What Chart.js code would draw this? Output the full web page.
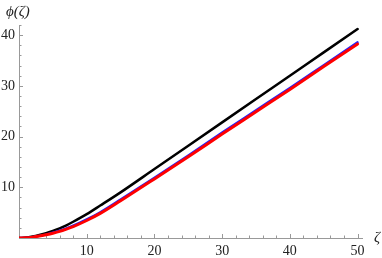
<!DOCTYPE html>
<html>
<head>
<meta charset="utf-8">
<script src="https://cdn.jsdelivr.net/npm/chart.js@4"></script>
<style>
  html, body { margin: 0; padding: 0; background: #fff; }
  #wrap { width: 382px; height: 258px; }
</style>
</head>
<body>
<div id="wrap"><canvas id="phiChart"></canvas></div>
<script>
// values
const zeta = [0, 1, 2, 3, 4, 5, 6, 7, 8, 10, 12, 15, 20, 25, 30, 35, 40, 45, 50];
const phiBlack = [0, 0.08, 0.3, 0.6, 0.95, 1.4, 1.9, 2.5, 3.2, 4.7, 6.4, 9.0, 13.6, 18.2, 22.8, 27.4, 32.0, 36.6, 41.2];
const phiBlue = [0, 0.05, 0.2, 0.42, 0.7, 1.05, 1.45, 1.9, 2.45, 3.7, 5.1, 7.6, 11.9, 16.3, 20.8, 25.2, 29.6, 34.1, 38.6];
const phiRed = [0, 0.04, 0.17, 0.38, 0.65, 0.95, 1.3, 1.75, 2.25, 3.45, 4.85, 7.35, 11.65, 16.0, 20.5, 24.9, 29.3, 33.8, 38.25];
const xTicks = [10, 20, 30, 40, 50];
const yTicks = [10, 20, 30, 40];

function pts(ys) {
    return zeta.map((z, i) => ({ x: z, y: ys[i] }));
}

// Mathematica style axes: inward ticks, minor ticks every 2
const axesPlugin = {
    id: 'axes',
    beforeDatasetsDraw(chart) {
        const ctx = chart.ctx;
        const xs = chart.scales.x, ys = chart.scales.y;
        const x0 = xs.getPixelForValue(0), y0 = ys.getPixelForValue(0);
        ctx.save();
        ctx.strokeStyle = '#999';
        ctx.lineWidth = 1;
        ctx.beginPath();
        ctx.moveTo(x0, y0 + 0.5);
        ctx.lineTo(xs.right, y0 + 0.5);
        ctx.moveTo(x0 + 0.5, y0);
        ctx.lineTo(x0 + 0.5, ys.top);
        for (let v = 2; v <= xs.max; v += 2) {
            const px = Math.round(xs.getPixelForValue(v)) + 0.5;
            const len = v % 10 === 0 ? 4 : 2.5;
            ctx.moveTo(px, y0);
            ctx.lineTo(px, y0 - len);
        }
        for (let v = 2; v <= ys.max; v += 2) {
            const py = Math.round(ys.getPixelForValue(v)) + 0.5;
            const len = v % 10 === 0 ? 4 : 2.5;
            ctx.moveTo(x0, py);
            ctx.lineTo(x0 + len, py);
        }
        ctx.stroke();

        ctx.fillStyle = '#222';
        ctx.font = '14px "Liberation Serif", serif';
        ctx.textAlign = 'center';
        ctx.textBaseline = 'middle';
        xTicks.forEach(v => ctx.fillText(String(v), xs.getPixelForValue(v), y0 + 13));
        ctx.textAlign = 'right';
        yTicks.forEach(v => ctx.fillText(String(v), x0 - 4, ys.getPixelForValue(v)));

        ctx.font = 'italic 15px "Liberation Serif", serif';
        ctx.textAlign = 'left';
        ctx.fillText('\u03D5(\u03B6)', 6, 12);
        ctx.textAlign = 'center';
        ctx.fillText('\u03B6', 377, y0);
        ctx.restore();
    }
};

new Chart(document.getElementById('phiChart'), {
    type: 'line',
    data: {
        datasets: [
            { data: pts(phiRed), borderColor: '#ff0000', borderWidth: 3 },
            { data: pts(phiBlue), borderColor: '#2020ff', borderWidth: 2.2 },
            { data: pts(phiBlack), borderColor: '#000000', borderWidth: 2.5 }
        ]
    },
    options: {
        responsive: true,
        maintainAspectRatio: false,
        animation: false,
        events: [],
        layout: { padding: { left: 19, right: 19, top: 25, bottom: 20 } },
        elements: {
            point: { radius: 0 },
            line: { cubicInterpolationMode: 'monotone', borderCapStyle: 'round', borderJoinStyle: 'round' }
        },
        plugins: { legend: { display: false }, tooltip: { enabled: false } },
        scales: {
            x: { type: 'linear', min: 0, max: 50.8, display: false },
            y: { type: 'linear', min: 0, max: 42, display: false }
        }
    },
    plugins: [axesPlugin]
});
</script>
</body>
</html>
